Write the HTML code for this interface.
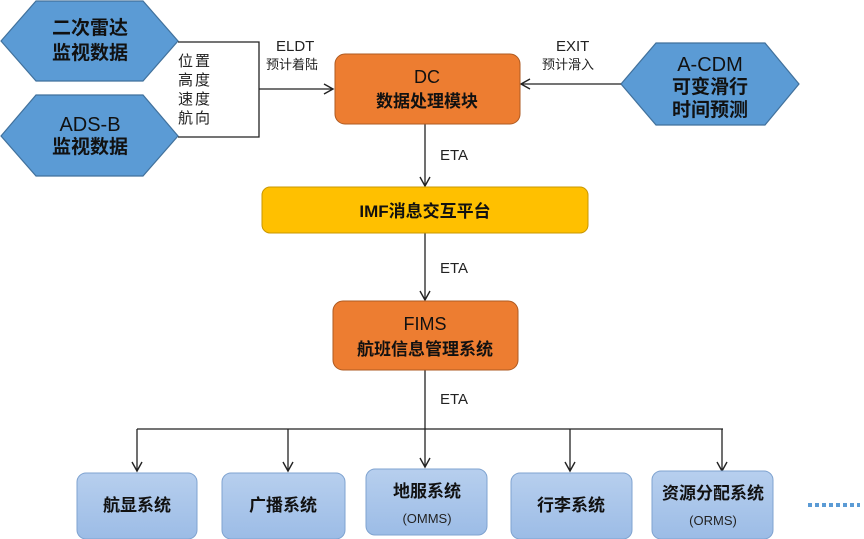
<!DOCTYPE html>
<html><head><meta charset="utf-8"><style>
html,body{margin:0;padding:0;background:#fff;}
svg{display:block;}
text{font-family:"Liberation Sans","Noto Sans CJK SC",sans-serif;}
</style></head><body>
<svg width="864" height="539" viewBox="0 0 864 539" xmlns="http://www.w3.org/2000/svg">
<defs>
<marker id="a" markerWidth="12" markerHeight="12" refX="10" refY="6" orient="auto" markerUnits="userSpaceOnUse">
<path d="M1,1 L10,6 L1,11" fill="none" stroke="#222" stroke-width="1.4"/></marker>
<linearGradient id="g" x1="0" y1="0" x2="0" y2="1"><stop offset="0" stop-color="#B7CFEE"/><stop offset="1" stop-color="#9CBCE6"/></linearGradient>
</defs>
<g stroke="#41719C" stroke-width="1.2" fill="#5B9BD5">
<polygon points="1,41 36,1 143,1 178,41 143,81 36,81"/>
<polygon points="1,136 36,95 143,95 178,136 143,176 36,176"/>
<polygon points="621,84 656,43 765,43 799,84 765,125 656,125"/>
</g>
<g font-weight="bold" font-size="19" fill="#111" text-anchor="middle">
<text x="90" y="34">二次雷达</text><text x="90" y="59">监视数据</text>
<text x="90" y="131" font-weight="normal" font-size="20">ADS-B</text><text x="90" y="153">监视数据</text>
<text x="710" y="71" font-weight="normal" font-size="20">A-CDM</text><text x="710" y="93">可变滑行</text><text x="710" y="116">时间预测</text>
</g>
<g fill="none" stroke="#222" stroke-width="1.3">
<polyline points="178,42 259,42 259,137 178,137"/>
<line x1="259" y1="89" x2="333" y2="89" marker-end="url(#a)"/>
<line x1="621" y1="84" x2="521" y2="84" marker-end="url(#a)"/>
<line x1="425" y1="124" x2="425" y2="186" marker-end="url(#a)"/>
<line x1="425" y1="233" x2="425" y2="300" marker-end="url(#a)"/>
<line x1="425" y1="370" x2="425" y2="467" marker-end="url(#a)"/>
<line x1="137" y1="429" x2="723" y2="429"/>
<line x1="137" y1="429" x2="137" y2="471" marker-end="url(#a)"/>
<line x1="288" y1="429" x2="288" y2="471" marker-end="url(#a)"/>
<line x1="570" y1="429" x2="570" y2="471" marker-end="url(#a)"/>
<line x1="722" y1="429" x2="722" y2="471" marker-end="url(#a)"/>
</g>
<g font-size="15" fill="#222">
<text x="178" y="66" letter-spacing="2">位置</text><text x="178" y="85" letter-spacing="2">高度</text><text x="178" y="104" letter-spacing="2">速度</text><text x="178" y="123" letter-spacing="2">航向</text>
<text x="276" y="51">ELDT</text><text x="266" y="69" font-size="13">预计着陆</text>
<text x="556" y="51">EXIT</text><text x="542" y="69" font-size="13">预计滑入</text>
<text x="440" y="160">ETA</text><text x="440" y="273">ETA</text><text x="440" y="404">ETA</text>
</g>
<rect x="335" y="54" width="185" height="70" rx="10" fill="#ED7D31" stroke="#AE5A21" stroke-width="1"/>
<rect x="262" y="187" width="326" height="46" rx="8" fill="#FFC000" stroke="#C99700" stroke-width="1"/>
<rect x="333" y="301" width="185" height="69" rx="10" fill="#ED7D31" stroke="#AE5A21" stroke-width="1"/>
<g font-size="17" fill="#111" text-anchor="middle" font-weight="bold">
<text x="427" y="83" font-weight="normal" font-size="18">DC</text><text x="427" y="107">数据处理模块</text>
<text x="425" y="217">IMF消息交互平台</text>
<text x="425" y="330" font-weight="normal" font-size="18">FIMS</text><text x="425" y="355">航班信息管理系统</text>
</g>
<g fill="url(#g)" stroke="#7FA3D0" stroke-width="1">
<rect x="77" y="473" width="120" height="66" rx="9"/>
<rect x="222" y="473" width="123" height="66" rx="9"/>
<rect x="366" y="469" width="121" height="66" rx="9"/>
<rect x="511" y="473" width="121" height="66" rx="9"/>
<rect x="652" y="471" width="121" height="68" rx="9"/>
</g>
<g font-size="17" font-weight="bold" fill="#111" text-anchor="middle">
<text x="137" y="511">航显系统</text>
<text x="283" y="511">广播系统</text>
<text x="427" y="497">地服系统</text>
<text x="571" y="511">行李系统</text>
<text x="713" y="499">资源分配系统</text>
</g>
<g font-size="13" fill="#222" text-anchor="middle">
<text x="427" y="523">(OMMS)</text><text x="713" y="525">(ORMS)</text>
</g>
<line x1="808" y1="505" x2="860" y2="505" stroke="#5B9BD5" stroke-width="4" stroke-dasharray="4,3"/>
</svg>
</body></html>
